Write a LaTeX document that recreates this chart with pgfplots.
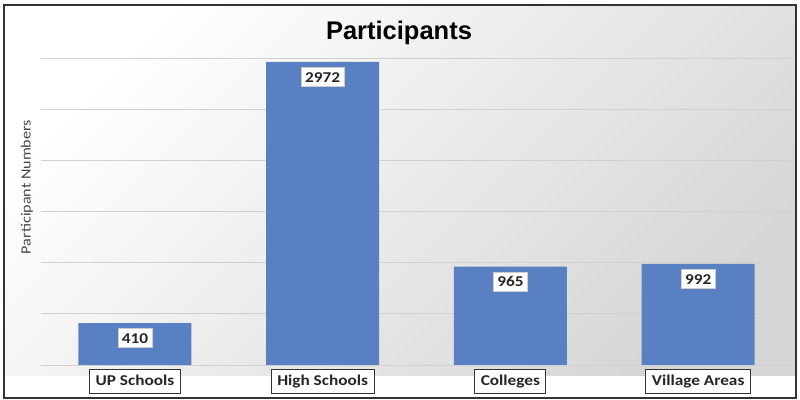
\documentclass[border=0pt]{standalone}
\usepackage{pgfplots}
\pgfplotsset{compat=1.18}
\usepackage{fontspec}
\setmainfont{Carlito}
\newfontfamily\labfont[FakeStretch=1.15]{Carlito}
\newfontfamily\titlefont{Liberation Sans}
\definecolor{barblue}{RGB}{90,128,196}
\definecolor{framegray}{RGB}{51,51,51}
\definecolor{gridgray}{RGB}{208,208,208}
\definecolor{labgray}{RGB}{70,70,70}
\begin{document}
\begin{tikzpicture}
\path (-41bp,-35bp) rectangle (759bp,365bp);
\shade[top color=white, bottom color=black!16, shading angle=45] (-37bp,-10bp) rectangle (755bp,360bp);
\begin{axis}[
  at={(0,0)}, anchor=south west,
  scale only axis, width=751bp, height=306bp,
  xmin=-0.5, xmax=3.5, ymin=0, ymax=3000,
  axis line style={draw=none},
  ytick={0,500,...,3000}, yticklabels={},
  ymajorgrids, grid style={gridgray, line width=1bp},
  major tick length=0pt,
  xtick={0,1,2,3},
  xticklabels={UP Schools, High Schools, Colleges, Village Areas},
  xticklabel style={font=\labfont\bfseries\fontsize{15bp}{18bp}\selectfont,
    draw=framegray, line width=1bp, fill=white, inner xsep=6bp, inner ysep=5bp,
    text height=11bp, text depth=3bp, anchor=north, yshift=-4bp, text=black!85},
  bar width=113bp,
  nodes near coords={\pgfmathprintnumber[assume math mode=true, 1000 sep={}]{\pgfplotspointmeta}},
  every node near coord/.append style={anchor=north, yshift=-5bp, fill=white, draw=gray!40,
    font=\labfont\bfseries\fontsize{15bp}{18bp}\selectfont, inner xsep=4bp, inner ysep=4bp,
    text height=11bp, text depth=0bp, text=black!85},
]
\addplot[ybar, fill=barblue, draw=none] coordinates {(0,410) (1,2972) (2,965) (3,992)};
\end{axis}
\node[rotate=90, font=\labfont\fontsize{14bp}{16bp}\selectfont, text=labgray] at (-14bp,178bp) {Participant Numbers};
\node[anchor=base, font=\titlefont\bfseries\fontsize{25.5bp}{30bp}\selectfont] at (358bp,325bp) {Participants};
\draw[framegray, line width=2bp] (-37bp,-33bp) rectangle (755bp,360bp);
\end{tikzpicture}
\end{document}
